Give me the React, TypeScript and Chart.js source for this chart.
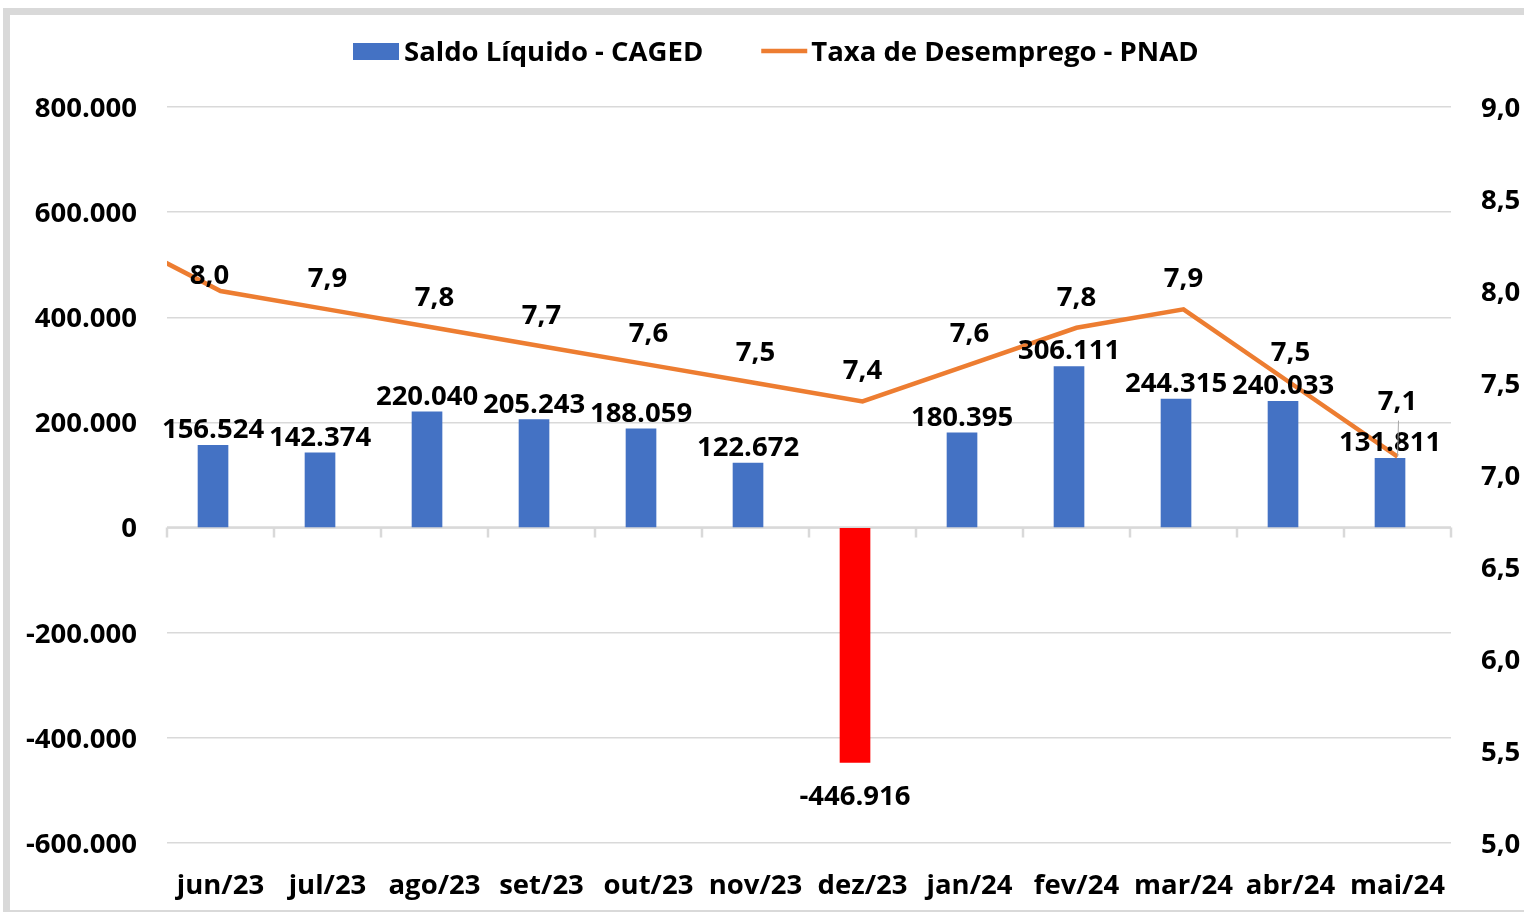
import React, { useEffect, useRef } from "react";
import { Chart, registerables } from "chart.js";

Chart.register(...registerables);

// ---- data ----
const months = ["jun/23", "jul/23", "ago/23", "set/23", "out/23", "nov/23", "dez/23", "jan/24", "fev/24", "mar/24", "abr/24", "mai/24"];
const saldoCaged = [156524, 142374, 220040, 205243, 188059, 122672, -446916, 180395, 306111, 244315, 240033, 131811];
const taxaDesemprego = [8.0, 7.9, 7.8, 7.7, 7.6, 7.5, 7.4, 7.6, 7.8, 7.9, 7.5, 7.1];
// previous month (off the left edge of the plot, only its segment shows)
const prevMonthLabel = "mai/23";
const prevMonthTaxa = 8.3;

const leftMin = -600000;
const leftMax = 800000;
const leftStep = 200000;
const rightMin = 5.0;
const rightMax = 9.0;
const rightStep = 0.5;

const seriesNames = ["Saldo Líquido - CAGED", "Taxa de Desemprego - PNAD"];

// ---- styles ----
const FONT = "'Open Sans', 'Noto Sans', sans-serif";
const FSIZE = 27.5;
const BLUE = "#4472C4";
const RED = "#FF0000";
const ORANGE = "#ED7D31";
const GRID = "#D9D9D9";
const BAR_SHIFT = 0.07; // Excel draws the columns slightly left of the category centre
const TEXT_NUDGE = 2;

const fmtThousands = (v: number) => {
  const s = Math.round(Math.abs(v)).toString().replace(/\B(?=(\d{3})+(?!\d))/g, ".");
  return (v < 0 ? "-" : "") + s;
};
const fmtDec = (v: number) => v.toFixed(1).replace(".", ",");

const lineLabelNudge: Record<number, { dx: number; dy: number; leader?: boolean }> = {
  0: { dx: -11, dy: -17 },
  11: { dx: 0, dy: -56, leader: true },
};

const zeroAxisPlugin = {
  id: "zeroAxis",
  beforeDatasetsDraw(chart: any) {
    const { ctx, chartArea } = chart;
    const y = chart.scales.y.getPixelForValue(0);
    const x2 = chart.scales.x2;
    ctx.save();
    ctx.strokeStyle = GRID;
    ctx.lineWidth = 2.5;
    ctx.beginPath();
    ctx.moveTo(chartArea.left, y);
    ctx.lineTo(chartArea.right, y);
    for (let k = 0; k <= months.length; k++) {
      const x = x2.getPixelForValue(k - 0.5);
      ctx.moveTo(x, y);
      ctx.lineTo(x, y + 10);
    }
    ctx.stroke();
    ctx.restore();
  },
};

const labelsPlugin = {
  id: "valueLabels",
  afterDatasetsDraw(chart: any) {
    const { ctx } = chart;
    ctx.save();
    ctx.font = `bold ${FSIZE}px ${FONT}`;
    ctx.fillStyle = "#000";
    ctx.textAlign = "center";
    ctx.textBaseline = "middle";
    // bar labels
    const barMeta = chart.getDatasetMeta(0);
    barMeta.data.forEach((el: any, i: number) => {
      const v = saldoCaged[i];
      const y = v >= 0 ? el.y - 17 : el.y + 33;
      ctx.fillText(fmtThousands(v), el.x, y + TEXT_NUDGE);
    });
    // line labels
    const lineMeta = chart.getDatasetMeta(1);
    lineMeta.data.forEach((el: any, idx: number) => {
      if (idx === 0) return;
      const i = idx - 1;
      const n = lineLabelNudge[i] || { dx: 0, dy: -32 };
      const lx = el.x + n.dx;
      const ly = el.y + n.dy;
      if (n.leader) {
        ctx.save();
        ctx.strokeStyle = "#A6A6A6";
        ctx.lineWidth = 1;
        ctx.beginPath();
        ctx.moveTo(el.x + 1, ly + 20);
        ctx.lineTo(el.x, el.y);
        ctx.stroke();
        ctx.restore();
      }
      ctx.fillText(fmtDec(taxaDesemprego[i]), lx, ly + TEXT_NUDGE);
    });
    ctx.restore();
  },
};

const legendPlugin = {
  id: "customLegend",
  afterDraw(chart: any) {
    const { ctx } = chart;
    ctx.save();
    ctx.font = `bold ${FSIZE}px ${FONT}`;
    ctx.textBaseline = "middle";
    ctx.textAlign = "left";
    const cy = 36;
    let x = 343;
    ctx.fillStyle = BLUE;
    ctx.fillRect(x, cy - 8, 46, 17);
    ctx.fillStyle = "#000";
    ctx.fillText(seriesNames[0], x + 51, cy + TEXT_NUDGE);
    x = x + 51 + ctx.measureText(seriesNames[0]).width + 58;
    ctx.strokeStyle = ORANGE;
    ctx.lineWidth = 4.5;
    ctx.beginPath();
    ctx.moveTo(x, cy);
    ctx.lineTo(x + 46, cy);
    ctx.stroke();
    ctx.fillText(seriesNames[1], x + 50, cy + TEXT_NUDGE);
    ctx.restore();
  },
};

export default function App() {
  const ref = useRef<HTMLCanvasElement | null>(null);

  useEffect(() => {
    if (!ref.current) return;
    const tickFont = { family: FONT, size: FSIZE, weight: "bold" as const };
    const barData = saldoCaged.map((y, i) => ({ x: i, y }));
    const lineData = [{ x: -1, y: prevMonthTaxa, label: prevMonthLabel }].concat(
      taxaDesemprego.map((y, i) => ({ x: i, y, label: months[i] }))
    );
    const chart = new Chart(ref.current, {
      data: {
        labels: months,
        datasets: [
          {
            type: "bar",
            label: seriesNames[0],
            data: barData as any,
            backgroundColor: saldoCaged.map((v) => (v < 0 ? RED : BLUE)),
            xAxisID: "xb",
            yAxisID: "y",
            barThickness: 30,
            grouped: false,
            order: 2,
          },
          {
            type: "line",
            label: seriesNames[1],
            data: lineData as any,
            xAxisID: "x2",
            yAxisID: "y1",
            borderColor: ORANGE,
            backgroundColor: ORANGE,
            borderWidth: 4.5,
            pointRadius: 0,
            tension: 0,
            order: 1,
          },
        ] as any,
      },
      options: {
        animation: false,
        responsive: false,
        devicePixelRatio: 1,
        layout: { padding: { top: 92, left: 0, right: 0, bottom: 0 } },
        plugins: { legend: { display: false }, tooltip: { enabled: false } },
        scales: {
          x: {
            type: "category",
            offset: true,
            grid: { display: false },
            border: { display: false },
            ticks: { font: tickFont, color: "#000", padding: 19, maxRotation: 0, autoSkip: false },
            afterFit: (s: any) => {
              s.height = 67;
            },
          },
          x2: { type: "linear", display: false, offset: false, bounds: "data", min: -0.5, max: 11.5 },
          xb: {
            type: "linear",
            display: false,
            offset: false,
            bounds: "data",
            grid: { offset: false },
            min: -0.5 + BAR_SHIFT,
            max: 11.5 + BAR_SHIFT,
          },
          y: {
            position: "left",
            min: leftMin,
            max: leftMax,
            ticks: {
              stepSize: leftStep,
              font: tickFont,
              color: "#000",
              padding: 30,
              labelOffset: 2,
              callback: (v: any) => fmtThousands(Number(v)),
            },
            grid: { color: GRID, lineWidth: 1.5, drawTicks: false },
            border: { display: false },
            afterFit: (s: any) => {
              s.width = 157;
            },
          },
          y1: {
            position: "right",
            min: rightMin,
            max: rightMax,
            ticks: {
              stepSize: rightStep,
              font: tickFont,
              color: "#000",
              padding: 30,
              labelOffset: 2,
              callback: (v: any) => fmtDec(Number(v)),
            },
            grid: { display: false, drawTicks: false },
            border: { display: false },
            afterFit: (s: any) => {
              s.width = 73;
            },
          },
        } as any,
      },
      plugins: [zeroAxisPlugin, labelsPlugin, legendPlugin],
    });
    return () => chart.destroy();
  }, []);

  return (
    <div
      style={{
        position: "absolute",
        left: 3,
        top: 8,
        width: 1521,
        height: 904,
        boxSizing: "border-box",
        borderTop: "7px solid #D9D9D9",
        borderLeft: "7px solid #D9D9D9",
        borderBottom: "2px solid #D9D9D9",
        background: "#fff",
        overflow: "hidden",
      }}
    >
      <canvas ref={ref} width={1514} height={895} style={{ display: "block", width: 1514, height: 895 }} />
    </div>
  );
}
